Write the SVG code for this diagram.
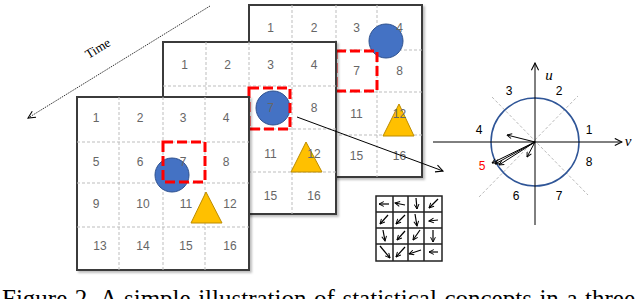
<svg xmlns="http://www.w3.org/2000/svg" width="640" height="299" viewBox="0 0 640 299">
<style>
.frame{fill:#fff;stroke:#3a3a3a;stroke-width:2}
.dl{stroke:#bdbdbd;stroke-width:1;stroke-dasharray:3,2;fill:none}
.num{font-family:"Liberation Sans",Arial,sans-serif;font-size:12px;fill:#666;text-anchor:middle}
.red{fill:none;stroke:#ff0000;stroke-width:3;stroke-dasharray:10,4}
.circ{fill:#4472c4;stroke:#2f528f;stroke-width:1}
.tri{fill:#ffc000;stroke:#bc8c00;stroke-width:1}
.lbl{font-family:"Liberation Sans",Arial,sans-serif;font-size:12px;text-anchor:middle}
.ax{stroke:#000;stroke-width:1;fill:none}
.sa{stroke:#000;stroke-width:1.2;fill:none}
</style>
<defs>
<filter id="sh" x="-5%" y="-5%" width="115%" height="115%"><feDropShadow dx="2" dy="2" stdDeviation="1.2" flood-color="#000" flood-opacity="0.25"/></filter>
<marker id="ah" viewBox="0 0 10 10" refX="9" refY="5" markerWidth="9" markerHeight="9" orient="auto" markerUnits="userSpaceOnUse"><path d="M1,1 L9,5 L1,9" fill="none" stroke="#000" stroke-width="1.2"/></marker>
<marker id="sm" viewBox="0 0 10 10" refX="9" refY="5" markerWidth="6" markerHeight="6" orient="auto" markerUnits="userSpaceOnUse"><path d="M1,1 L9,5 L1,9" fill="none" stroke="#000" stroke-width="1.6"/></marker>
</defs>

<!-- Time arrow -->
<g id="time">
<line x1="210" y1="6" x2="28" y2="118" stroke="#000" stroke-width="0.8" stroke-dasharray="1.5,1" marker-end="url(#ah)"/>
<text x="100" y="52" transform="rotate(-31.6 100 52)" font-family="Liberation Serif,Times New Roman,serif" font-size="13" text-anchor="middle">Time</text>
</g>

<!-- Back grid -->
<g id="grid-back">
<rect class="frame" x="249" y="5" width="173" height="172" filter="url(#sh)"/>
<path class="dl" d="M292,5V177M336,5V177M377,5V177M249,50H422M249,92H422M249,135H422"/>
<circle class="circ" cx="386" cy="41" r="17"/>
<polygon class="tri" points="399,104 383,136 414,136"/>
<text class="num" x="270.5" y="32">1</text><text class="num" x="314" y="32">2</text><text class="num" x="356.5" y="32">3</text><text class="num" x="399.5" y="32">4</text>
<text class="num" x="356.5" y="75">7</text><text class="num" x="399.5" y="75">8</text>
<text class="num" x="356.5" y="118">11</text><text class="num" x="399.5" y="118">12</text>
<text class="num" x="356.5" y="160">15</text><text class="num" x="399.5" y="160">16</text>
<rect class="red" x="336" y="51" width="41" height="40"/>
</g>

<!-- Middle grid -->
<g id="grid-middle">
<rect class="frame" x="163" y="42" width="173" height="172" filter="url(#sh)"/>
<path class="dl" d="M206,42V214M249,42V214M292,42V214M163,86H336M163,129H336M163,172H336"/>
<circle class="circ" cx="273" cy="108" r="17"/>
<polygon class="tri" points="306,142 291,172 322,172"/>
<text class="num" x="184.5" y="69">1</text><text class="num" x="227.5" y="69">2</text><text class="num" x="270.5" y="69">3</text><text class="num" x="314" y="69">4</text>
<text class="num" x="270.5" y="112">7</text><text class="num" x="314" y="112">8</text>
<text class="num" x="270.5" y="158">11</text><text class="num" x="314" y="158">12</text>
<text class="num" x="270.5" y="200">15</text><text class="num" x="314" y="200">16</text>
<rect class="red" x="249" y="88" width="41" height="41"/>
</g>

<!-- Front grid -->
<g id="grid-front">
<rect class="frame" x="77" y="97" width="172" height="173" filter="url(#sh)"/>
<path class="dl" d="M119,97V270M163,97V270M205,97V270M77,142H249M77,183H249M77,227H249"/>
<circle class="circ" cx="172" cy="175" r="17"/>
<polygon class="tri" points="206,192 191,223 222,223"/>
<text class="num" x="96" y="122">1</text><text class="num" x="140" y="122">2</text><text class="num" x="183" y="122">3</text><text class="num" x="226" y="122">4</text>
<text class="num" x="96" y="166">5</text><text class="num" x="140" y="166">6</text><text class="num" x="183" y="166">7</text><text class="num" x="226" y="166">8</text>
<text class="num" x="96" y="208">9</text><text class="num" x="143" y="208">10</text><text class="num" x="186" y="208">11</text><text class="num" x="230" y="208">12</text>
<text class="num" x="100" y="250">13</text><text class="num" x="143" y="250">14</text><text class="num" x="186" y="250">15</text><text class="num" x="230" y="250">16</text>
<rect class="red" x="163" y="142" width="42" height="40"/>
</g>

<!-- Connectors -->
<g id="connectors">
<line x1="297" y1="117" x2="443" y2="171" stroke="#000" stroke-width="1" marker-end="url(#ah)"/>
</g>

<!-- Orientation histogram (polar) -->
<g id="polar">
<line x1="479" y1="197" x2="578" y2="96" stroke="#aaa" stroke-width="0.8" stroke-dasharray="3,2"/>
<line x1="492" y1="97" x2="588" y2="195" stroke="#aaa" stroke-width="0.8" stroke-dasharray="3,2"/>
<circle cx="535" cy="142" r="44" fill="none" stroke="#2f5597" stroke-width="1.5"/>
<line class="ax" x1="433" y1="142" x2="622" y2="142" marker-end="url(#ah)"/>
<line class="ax" x1="535" y1="225" x2="535" y2="63" marker-end="url(#ah)"/>
<text x="549" y="80" font-family="Liberation Serif,Times New Roman,serif" font-style="italic" font-size="15" text-anchor="middle">u</text>
<text x="628" y="146" font-family="Liberation Serif,Times New Roman,serif" font-style="italic" font-size="15" text-anchor="middle">v</text>
<text class="lbl" x="589" y="134" fill="#000">1</text>
<text class="lbl" x="559" y="95" fill="#000">2</text>
<text class="lbl" x="509" y="95" fill="#000">3</text>
<text class="lbl" x="479" y="134" fill="#000">4</text>
<text class="lbl" x="482" y="170" fill="#ff0000">5</text>
<text class="lbl" x="516" y="200" fill="#000">6</text>
<text class="lbl" x="559" y="200" fill="#000">7</text>
<text class="lbl" x="589" y="166" fill="#000">8</text>
<g stroke="#000" stroke-width="1" fill="none">
<line x1="535" y1="142" x2="507" y2="135" marker-end="url(#sm)"/>
<line x1="535" y1="142" x2="492" y2="163" marker-end="url(#sm)"/>
<line x1="535" y1="142" x2="495" y2="164" marker-end="url(#sm)"/>
<line x1="535" y1="142" x2="499" y2="165" marker-end="url(#sm)"/>
<line x1="535" y1="142" x2="527" y2="157" marker-end="url(#sm)"/>
</g>
</g>

<!-- Small flow grid -->
<g id="flow-grid">
<rect x="376" y="196" width="66" height="65" fill="#fff" stroke="#222" stroke-width="1.5"/>
<path d="M393,196V261M408,196V261M424,196V261M376,212H442M376,228H442M376,244H442" stroke="#222" stroke-width="1.5" fill="none"/>
<g class="sa">
<line x1="389" y1="204" x2="379" y2="204" marker-end="url(#sm)"/>
<line x1="405" y1="205" x2="395" y2="203" marker-end="url(#sm)"/>
<line x1="416" y1="198" x2="417" y2="209" marker-end="url(#sm)"/>
<line x1="438" y1="199" x2="429" y2="208" marker-end="url(#sm)"/>
<line x1="388" y1="215" x2="380" y2="224" marker-end="url(#sm)"/>
<line x1="405" y1="215" x2="396" y2="224" marker-end="url(#sm)"/>
<line x1="415" y1="214" x2="417" y2="226" marker-end="url(#sm)"/>
<line x1="438" y1="220" x2="429" y2="221" marker-end="url(#sm)"/>
<line x1="383" y1="230" x2="385" y2="241" marker-end="url(#sm)"/>
<line x1="405" y1="231" x2="397" y2="240" marker-end="url(#sm)"/>
<line x1="420" y1="230" x2="413" y2="240" marker-end="url(#sm)"/>
<line x1="433" y1="230" x2="433" y2="242" marker-end="url(#sm)"/>
<line x1="380" y1="246" x2="390" y2="258" marker-end="url(#sm)"/>
<line x1="405" y1="247" x2="396" y2="257" marker-end="url(#sm)"/>
<line x1="421" y1="250" x2="409" y2="254" marker-end="url(#sm)"/>
<line x1="438" y1="252" x2="429" y2="252" marker-end="url(#sm)"/>
</g>
</g>

<text x="2" y="306.5" font-family="Liberation Serif,Times New Roman,serif" font-size="25" word-spacing="1.3" fill="#000">Figure 2. A simple illustration of statistical concepts in a three</text>
</svg>
